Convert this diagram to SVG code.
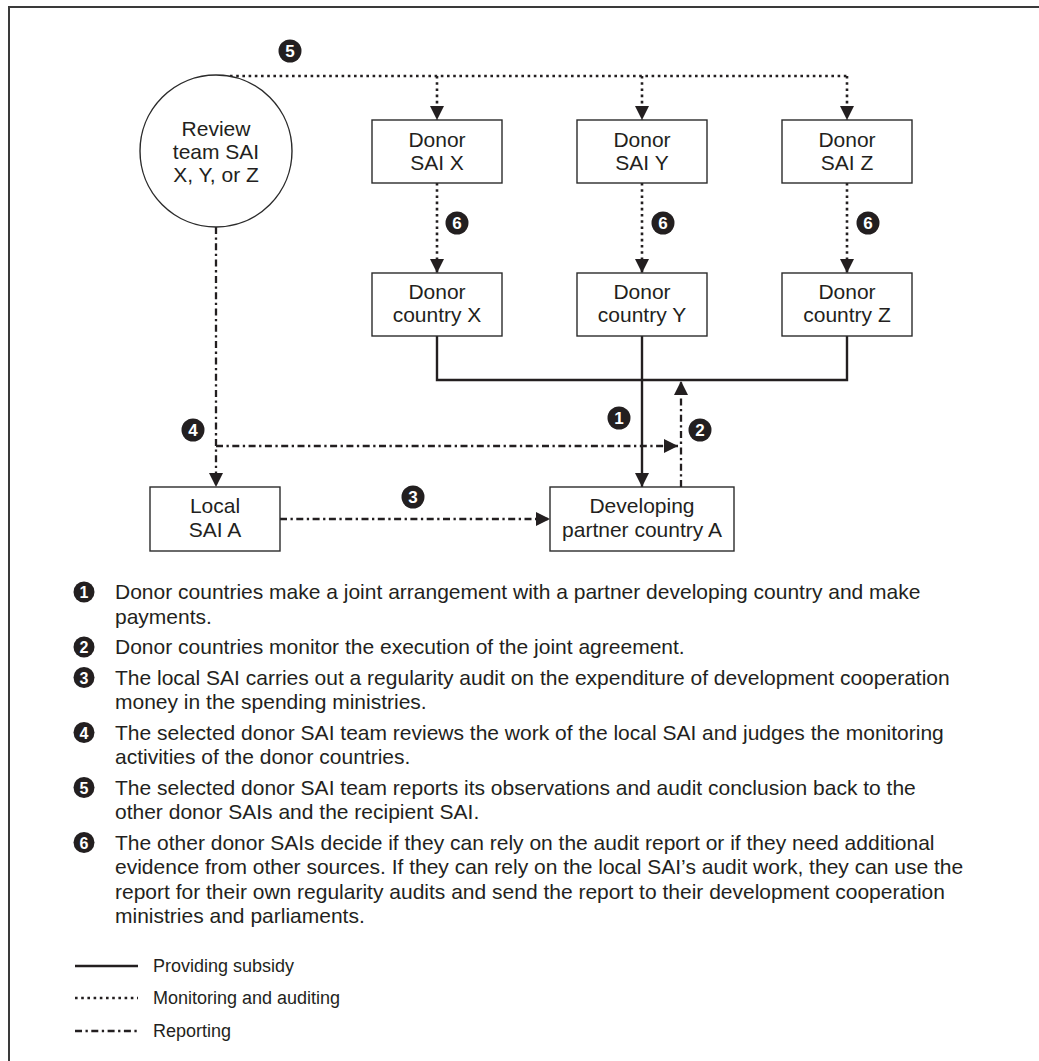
<svg xmlns="http://www.w3.org/2000/svg" width="1039" height="1061" viewBox="0 0 1039 1061">
<style>
.box{fill:#fff;stroke:#2b2b2b;stroke-width:1.4}
.t{font-family:"Liberation Sans",Arial,sans-serif;font-size:21px;fill:#231f20;text-anchor:middle}
.lt{font-family:"Liberation Sans",Arial,sans-serif;font-size:21px;fill:#231f20}
.gt{font-family:"Liberation Sans",Arial,sans-serif;font-size:18px;fill:#231f20}
.num{fill:#231f20}
.nt{font-family:"Liberation Sans",Arial,sans-serif;font-weight:bold;font-size:17px;fill:#fff;text-anchor:middle}
.nts{font-family:"Liberation Sans",Arial,sans-serif;font-weight:bold;font-size:16px;fill:#fff;text-anchor:middle}
.solid{fill:none;stroke:#231f20;stroke-width:2.4}
.dot{fill:none;stroke:#231f20;stroke-width:2.6;stroke-dasharray:2.6 3.6}
.dd{fill:none;stroke:#231f20;stroke-width:2.3;stroke-dasharray:7 3.5 2.3 3.5}
</style>
<defs>
<marker id="ah" viewBox="0 0 10 10" refX="10" refY="5" markerWidth="14" markerHeight="14" markerUnits="userSpaceOnUse" orient="auto">
<path d="M0,0 L10,5 L0,10 Z" fill="#231f20"/>
</marker>
</defs>
<rect width="1039" height="1061" fill="#fff"/>
<path d="M9,1061 V7 H1039" fill="none" stroke="#3a3a3a" stroke-width="2"/>

<g id="connectors">
<path class="dot" d="M230,76 H847"/>
<path class="dot" d="M437,76 V120" marker-end="url(#ah)"/>
<path class="dot" d="M642,76 V120" marker-end="url(#ah)"/>
<path class="dot" d="M847,76 V120" marker-end="url(#ah)"/>
<path class="dot" d="M437,183 V273" marker-end="url(#ah)"/>
<path class="dot" d="M642,183 V273" marker-end="url(#ah)"/>
<path class="dot" d="M847,183 V273" marker-end="url(#ah)"/>
<path class="solid" d="M437,336 V380 H847 V336"/>
<path class="solid" d="M642,336 V487" marker-end="url(#ah)"/>
<path class="dd" d="M681,487 V381" marker-end="url(#ah)"/>
<path class="dd" d="M216,227 V487" marker-end="url(#ah)"/>
<path class="dd" d="M216,446 H678" marker-end="url(#ah)"/>
<path class="dd" d="M280,519 H550" marker-end="url(#ah)"/>
</g>

<g id="review-team">
<circle cx="216" cy="151" r="76" fill="#fff" stroke="#2b2b2b" stroke-width="1.4"/>
<text class="t" x="216" y="136">Review</text>
<text class="t" x="216" y="159">team SAI</text>
<text class="t" x="216" y="182">X, Y, or Z</text>
</g>
<g id="donor-sai-x"><rect class="box" x="372" y="120" width="130" height="63"/><text class="t" x="437" y="147">Donor</text><text class="t" x="437" y="170">SAI X</text></g>
<g id="donor-sai-y"><rect class="box" x="577" y="120" width="130" height="63"/><text class="t" x="642" y="147">Donor</text><text class="t" x="642" y="170">SAI Y</text></g>
<g id="donor-sai-z"><rect class="box" x="782" y="120" width="130" height="63"/><text class="t" x="847" y="147">Donor</text><text class="t" x="847" y="170">SAI Z</text></g>
<g id="donor-country-x"><rect class="box" x="372" y="273" width="130" height="63"/><text class="t" x="437" y="299">Donor</text><text class="t" x="437" y="322">country X</text></g>
<g id="donor-country-y"><rect class="box" x="577" y="273" width="130" height="63"/><text class="t" x="642" y="299">Donor</text><text class="t" x="642" y="322">country Y</text></g>
<g id="donor-country-z"><rect class="box" x="782" y="273" width="130" height="63"/><text class="t" x="847" y="299">Donor</text><text class="t" x="847" y="322">country Z</text></g>
<g id="local-sai-a"><rect class="box" x="150" y="487" width="130" height="64"/><text class="t" x="215" y="513">Local</text><text class="t" x="215" y="537">SAI A</text></g>
<g id="developing-country-a"><rect class="box" x="550" y="487" width="184" height="64"/><text class="t" x="642" y="513">Developing</text><text class="t" x="642" y="537">partner country A</text></g>

<g id="step-labels">
<circle class="num" cx="290" cy="51" r="11.5"/><text class="nt" x="290" y="57">5</text>
<circle class="num" cx="457" cy="223" r="11.5"/><text class="nt" x="457" y="229">6</text>
<circle class="num" cx="663" cy="223" r="11.5"/><text class="nt" x="663" y="229">6</text>
<circle class="num" cx="868" cy="223" r="11.5"/><text class="nt" x="868" y="229">6</text>
<circle class="num" cx="619" cy="418" r="11.5"/><text class="nt" x="619" y="424">1</text>
<circle class="num" cx="700" cy="430" r="11.5"/><text class="nt" x="700" y="436">2</text>
<circle class="num" cx="193" cy="430" r="11.5"/><text class="nt" x="193" y="436">4</text>
<circle class="num" cx="413" cy="497" r="11.5"/><text class="nt" x="413" y="503">3</text>
</g>

<g id="notes">
<circle class="num" cx="84" cy="592" r="10.5"/><text class="nts" x="84" y="598">1</text>
<text class="lt" x="115" y="599">Donor countries make a joint arrangement with a partner developing country and make</text>
<text class="lt" x="115" y="623.5">payments.</text>
<circle class="num" cx="84" cy="647" r="10.5"/><text class="nts" x="84" y="653">2</text>
<text class="lt" x="115" y="654">Donor countries monitor the execution of the joint agreement.</text>
<circle class="num" cx="84" cy="677.5" r="10.5"/><text class="nts" x="84" y="683.5">3</text>
<text class="lt" x="115" y="684.5">The local SAI carries out a regularity audit on the expenditure of development cooperation</text>
<text class="lt" x="115" y="709">money in the spending ministries.</text>
<circle class="num" cx="84" cy="732.5" r="10.5"/><text class="nts" x="84" y="738.5">4</text>
<text class="lt" x="115" y="739.5">The selected donor SAI team reviews the work of the local SAI and judges the monitoring</text>
<text class="lt" x="115" y="764">activities of the donor countries.</text>
<circle class="num" cx="84" cy="787.5" r="10.5"/><text class="nts" x="84" y="793.5">5</text>
<text class="lt" x="115" y="794.5">The selected donor SAI team reports its observations and audit conclusion back to the</text>
<text class="lt" x="115" y="819">other donor SAIs and the recipient SAI.</text>
<circle class="num" cx="84" cy="842.5" r="10.5"/><text class="nts" x="84" y="848.5">6</text>
<text class="lt" x="115" y="849.5">The other donor SAIs decide if they can rely on the audit report or if they need additional</text>
<text class="lt" x="115" y="874">evidence from other sources. If they can rely on the local SAI’s audit work, they can use the</text>
<text class="lt" x="115" y="898.5">report for their own regularity audits and send the report to their development cooperation</text>
<text class="lt" x="115" y="923">ministries and parliaments.</text>
</g>

<g id="legend">
<path class="solid" d="M75,966 H138"/>
<text class="gt" x="153" y="972">Providing subsidy</text>
<path class="dot" d="M75,998 H138"/>
<text class="gt" x="153" y="1004">Monitoring and auditing</text>
<path class="dd" d="M75,1031 H138"/>
<text class="gt" x="153" y="1037">Reporting</text>
</g>
</svg>
